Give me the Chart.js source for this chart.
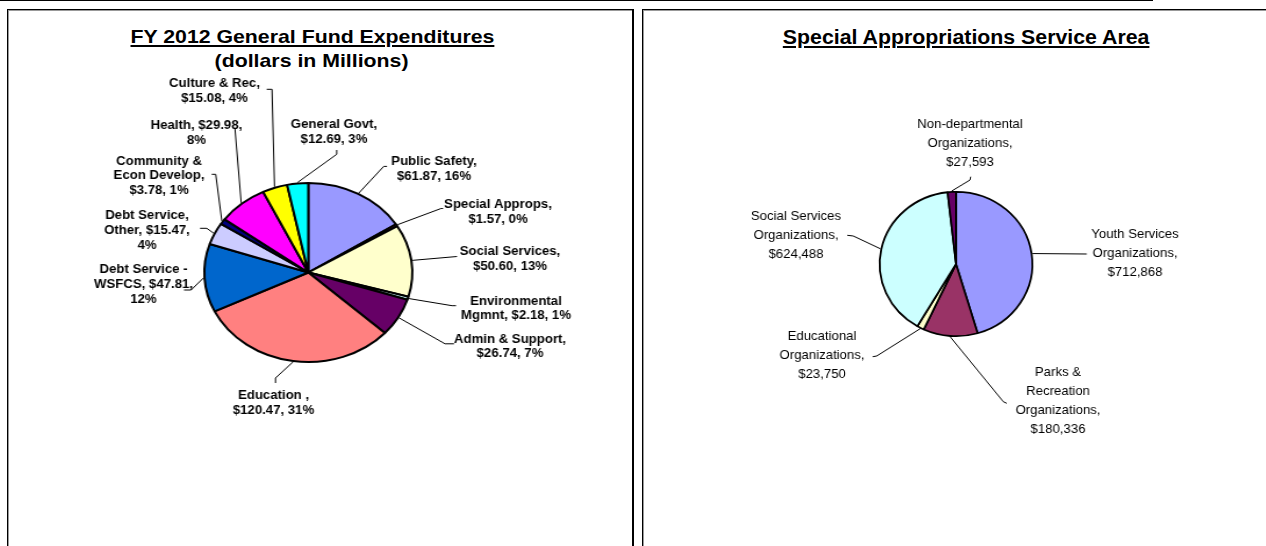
<!DOCTYPE html>
<html lang="en">
<head>
<meta charset="UTF-8">
<title>General Fund Expenditures</title>
<script src="https://cdn.jsdelivr.net/npm/chart.js"></script>
<style>
    body {
        margin: 0;
        width: 1266px;
        height: 546px;
        background: #fff;
        overflow: hidden;
        position: relative;
        font-family: "Liberation Sans", Arial, sans-serif;
    }
    .topline {
        position: absolute;
        left: 0;
        top: 0;
        width: 1153px;
        height: 1px;
        background: #000;
    }
    .panel {
        position: absolute;
        top: 9px;
        height: 560px;
        box-sizing: border-box;
        border-left: 1px solid #000;
        border-top: 1px solid #000;
        box-shadow: inset 1px 1px 0 #999;
    }
    #leftPanel { left: 7px; width: 627px; border-right: 2px solid #000; }
    #rightPanel { left: 642px; width: 640px; }
    canvas { position: absolute; }
    .title {
        position: absolute;
        width: 600px;
        text-align: center;
        font-weight: bold;
        line-height: 24px;
        white-space: nowrap;
    }
    .title span { display: inline-block; }
    .u {
        text-decoration: underline;
        text-decoration-thickness: 2px;
        text-underline-offset: 2px;
    }
</style>
</head>
<body>
<div class="topline"></div>
<div class="panel" id="leftPanel"></div>
<div class="panel" id="rightPanel"></div>

<div class="title" style="left:12px; top:25.4px; font-size:19px;">
    <div><span class="u" style="transform:scaleX(1.12)">FY 2012 General Fund Expenditures</span></div>
    <div><span style="transform:scaleX(1.12)">(dollars in Millions)</span></div>
</div>
<div class="title" style="left:666px; top:24.6px; font-size:20px;">
    <div><span class="u" style="transform:scaleX(1.065)">Special Appropriations Service Area</span></div>
</div>

<canvas id="fundChart" width="537" height="536" style="left:8px; top:10px; width:624px; height:536px;"></canvas>
<canvas id="apropChart" width="589" height="536" style="left:643px; top:10px; width:623px; height:536px;"></canvas>

<script>
    // FY 2012 general fund, $ millions (clockwise from 12 o'clock)
    const fundCategories = ['Public Safety', 'Special Approps', 'Social Services', 'Environmental Mgmnt',
        'Admin & Support', 'Education ', 'Debt Service - WSFCS', 'Debt Service, Other',
        'Community & Econ Develop', 'Health', 'Culture & Rec', 'General Govt'];
    const fundValues = [61.87, 1.57, 50.60, 2.18, 26.74, 120.47, 47.81, 15.47, 3.78, 29.98, 15.08, 12.69];

    // special appropriations, dollars
    const apropCategories = ['Youth Services Organizations', 'Parks & Recreation Organizations',
        'Educational Organizations', 'Social Services Organizations', 'Non-departmental Organizations'];
    const apropValues = [712868, 180336, 23750, 624488, 27593];

    const palette = ['#9999FF', '#993366', '#FFFFCC', '#CCFFFF', '#660066', '#FF8080',
        '#0066CC', '#CCCCFF', '#000080', '#FF00FF', '#FFFF00', '#00FFFF'];

    // label placement (page px): text centre, words per line, leader bend points
    const fundSpots = [
        {at: [434, 161.5], words: [2, 2], leader: [[383.7, 166.4], [387, 166.4]]},
        {at: [498, 204.5], words: [2, 2], leader: [[441, 208.5], [443, 208.5]]},
        {at: [510, 251.3], words: [2, 2], leader: [[457, 256.5]]},
        {at: [516, 300.9], words: [1, 3], leader: [[452, 305.7], [456, 305.7]]},
        {at: [510, 339], words: [3, 2], leader: [[445, 343.8], [454, 343.8]]},
        {at: [273.5, 395.8], words: [2, 2], leader: [[275.5, 378], [275.5, 383]]},
        {at: [143.5, 269.3], words: [3, 2, 1], leader: [[191, 290], [184, 290]]},
        {at: [147, 215.6], words: [2, 2, 1], leader: [[206.7, 228.3], [200, 228.3]]},
        {at: [159, 161], words: [2, 2, 2], leader: [[215.7, 174.3], [211.7, 174.3]]},
        {at: [196.5, 125.5], words: [2, 1], leader: [[235, 129]]},
        {at: [214.5, 83.5], words: [3, 2], leader: [[272, 89.3], [266.7, 89.3]]},
        {at: [334, 124.8], words: [2, 2], leader: [[336.7, 154.3], [336.7, 150]]}
    ];
    const apropSpots = [
        {at: [1135, 234.7], words: [2, 1, 1], leader: [[1086.7, 254]]},
        {at: [1058, 372.7], words: [2, 1, 1, 1], leader: [[1003.3, 401.7], [1006.7, 403.3]]},
        {at: [822, 336.7], words: [1, 1, 1], leader: [[876.7, 356], [872.7, 356.7]]},
        {at: [796, 216.7], words: [2, 1, 1], leader: [[853.3, 236], [847.3, 235.3]]},
        {at: [970, 124.7], words: [1, 1, 1], leader: [[970, 180], [970.7, 176.7]]}
    ];

    function wrapWords(text, counts) {
        const words = text.split(' ');
        const lines = [];
        let n = 0;
        counts.forEach(c => { lines.push(words.slice(n, n + c).join(' ')); n += c; });
        return lines;
    }

    function calloutPlugin(cfg) {
        return {
            id: 'callouts',
            afterDatasetsDraw(chart) {
                const ctx = chart.ctx;
                const toC = p => [(p[0] - cfg.left) / cfg.k, p[1] - cfg.top];
                const arcs = chart.getDatasetMeta(0).data;
                ctx.save();
                ctx.strokeStyle = '#000';
                ctx.lineWidth = 1;
                ctx.fillStyle = '#000';
                ctx.font = cfg.font;
                ctx.textAlign = 'center';
                ctx.textBaseline = 'middle';
                arcs.forEach((arc, i) => {
                    const spot = cfg.spots[i];
                    const a = arc.getProps(['x', 'y', 'startAngle', 'endAngle', 'outerRadius'], true);
                    const mid = (a.startAngle + a.endAngle) / 2;
                    const r = a.outerRadius + cfg.border / 2;
                    ctx.beginPath();
                    ctx.moveTo(a.x + Math.cos(mid) * r, a.y + Math.sin(mid) * r);
                    spot.leader.forEach(p => { const c = toC(p); ctx.lineTo(c[0], c[1]); });
                    ctx.stroke();

                    const lines = wrapWords(cfg.text(i), spot.words);
                    const c = toC(spot.at);
                    lines.forEach((line, j) => {
                        ctx.save();
                        ctx.translate(c[0], c[1] + j * cfg.lineHeight);
                        ctx.scale(1 / cfg.k, 1);
                        ctx.fillText(line, 0, 0);
                        ctx.restore();
                    });
                });
                ctx.restore();
            }
        };
    }

    function makePie(id, cfg) {
        const canvas = document.getElementById(id);
        const W = canvas.width, H = canvas.height;
        const cx = (cfg.center[0] - cfg.left) / cfg.k;
        const cy = cfg.center[1] - cfg.top;
        const side = cfg.radius + 10;
        return new Chart(canvas, {
            type: 'pie',
            data: {
                labels: cfg.labels,
                datasets: [{
                    data: cfg.values,
                    backgroundColor: palette.slice(0, cfg.values.length),
                    borderColor: '#000',
                    borderWidth: cfg.border
                }]
            },
            options: {
                responsive: false,
                animation: false,
                devicePixelRatio: 1,
                events: [],
                radius: cfg.radius,
                layout: {
                    padding: {left: cx - side, right: W - cx - side, top: cy - side, bottom: H - cy - side}
                },
                plugins: {
                    legend: {display: false},
                    tooltip: {enabled: false}
                }
            },
            plugins: [calloutPlugin(cfg)]
        });
    }

    const fundTotal = fundValues.reduce((s, v) => s + v, 0);
    makePie('fundChart', {
        labels: fundCategories,
        values: fundValues,
        spots: fundSpots,
        left: 8, top: 10, k: 624 / 537,
        center: [308.3, 272.5],
        radius: 89.5,
        border: 2,
        font: 'bold 13.2px "Liberation Sans", Arial, sans-serif',
        lineHeight: 14.8,
        text: i => `${fundCategories[i]}, $${fundValues[i].toFixed(2)}, ${Math.round(fundValues[i] / fundTotal * 100)}%`
    });

    makePie('apropChart', {
        labels: apropCategories,
        values: apropValues,
        spots: apropSpots,
        left: 643, top: 10, k: 623 / 589,
        center: [956, 264],
        radius: 72.2,
        border: 1.8,
        font: '13.2px "Liberation Sans", Arial, sans-serif',
        lineHeight: 19,
        text: i => `${apropCategories[i]}, $${apropValues[i].toLocaleString('en-US')}`
    });
</script>
</body>
</html>
